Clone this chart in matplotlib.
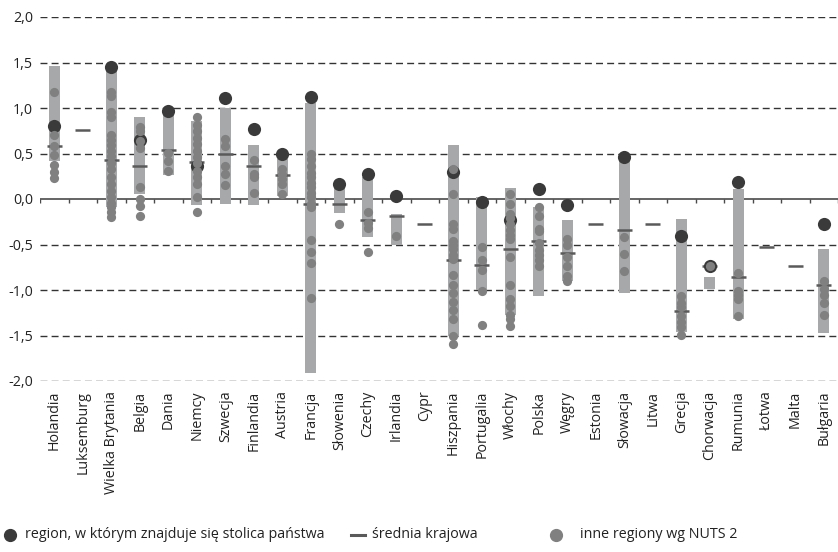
import numpy as np
import matplotlib.pyplot as plt
from matplotlib.lines import Line2D

plt.rcParams['font.family'] = ['Open Sans', 'DejaVu Sans']

# Dane
kraje = ['Holandia', 'Luksemburg', 'Wielka Brytania', 'Belgia', 'Dania', 'Niemcy',
         'Szwecja', 'Finlandia', 'Austria', 'Francja', 'Słowenia', 'Czechy', 'Irlandia',
         'Cypr', 'Hiszpania', 'Portugalia', 'Włochy', 'Polska', 'Węgry', 'Estonia',
         'Słowacja', 'Litwa', 'Grecja', 'Chorwacja', 'Rumunia', 'Łotwa', 'Malta', 'Bułgaria']

nan = np.nan
slupek_dol = [0.42, nan, -0.09, 0.05, 0.26, -0.07, -0.05, -0.07, 0.03, -1.91, -0.15, -0.42,
              -0.50, nan, -1.51, -1.00, -1.28, -1.07, -0.90, nan, -1.03, nan, -1.46, -0.99,
              -1.32, nan, nan, -1.47]
slupek_gora = [1.46, nan, 1.46, 0.90, 0.97, 0.86, 1.00, 0.59, 0.44, 1.06, 0.13, 0.24,
               -0.17, nan, 0.59, 0.02, 0.12, -0.09, -0.23, nan, 0.46, nan, -0.22, -0.86,
               0.11, nan, nan, -0.55]
stolica = [0.80, nan, 1.45, 0.65, 0.97, 0.36, 1.11, 0.77, 0.50, 1.12, 0.16, 0.28, 0.03,
           nan, 0.30, -0.03, -0.23, 0.11, -0.07, nan, 0.46, nan, -0.41, -0.74, 0.19, nan,
           nan, -0.28]
srednia = [0.58, 0.76, 0.43, 0.36, 0.54, 0.41, 0.50, 0.36, 0.26, -0.05, -0.05, -0.23,
           -0.19, -0.27, -0.67, -0.73, -0.55, -0.46, -0.59, -0.27, -0.34, -0.27, -1.23,
           -0.74, -0.86, -0.53, -0.74, -0.94]
inne = [
    [1.18, 0.70, 0.58, 0.48, 0.37, 0.30, 0.23],
    [],
    [1.18, 1.13, 0.96, 0.90, 0.70, 0.65, 0.59, 0.53, 0.47, 0.40, 0.33, 0.24, 0.16, 0.09,
     0.02, -0.04, -0.09, -0.14, -0.20],
    [0.79, 0.75, 0.64, 0.56, 0.13, 0.00, -0.08, -0.19],
    [0.51, 0.42, 0.31],
    [0.90, 0.81, 0.75, 0.67, 0.60, 0.53, 0.46, 0.40, 0.31, 0.24, 0.16, 0.02, -0.14],
    [0.66, 0.58, 0.36, 0.28, 0.15],
    [0.43, 0.27, 0.24, 0.07],
    [0.33, 0.27, 0.22, 0.16, 0.06],
    [0.49, 0.44, 0.36, 0.29, 0.24, 0.18, 0.13, 0.07, 0.02, -0.05, -0.09, -0.45, -0.58,
     -0.70, -1.09],
    [-0.27],
    [-0.14, -0.26, -0.32, -0.58],
    [-0.41],
    [],
    [0.33, 0.05, -0.28, -0.33, -0.46, -0.51, -0.55, -0.61, -0.66, -0.84, -0.95, -1.03,
     -1.13, -1.22, -1.32, -1.50, -1.59],
    [-0.53, -0.67, -0.78, -1.01, -1.38],
    [0.05, -0.06, -0.16, -0.21, -0.27, -0.34, -0.40, -0.44, -0.64, -0.95, -1.10, -1.18,
     -1.28, -1.32, -1.40],
    [-0.09, -0.19, -0.33, -0.35, -0.48, -0.56, -0.62, -0.67, -0.74],
    [-0.44, -0.51, -0.64, -0.74, -0.85, -0.90],
    [],
    [-0.42, -0.60, -0.79],
    [],
    [-1.07, -1.14, -1.19, -1.29, -1.35, -1.41, -1.49],
    [-0.74],
    [-0.81, -1.01, -1.06, -1.10, -1.29],
    [],
    [],
    [-0.90, -0.99, -1.06, -1.14, -1.28],
]
y_ticks = [-2.0, -1.5, -1.0, -0.5, 0.0, 0.5, 1.0, 1.5, 2.0]

x = np.arange(len(kraje))
fs = 10.3

fig = plt.figure(figsize=(8.38, 5.52), dpi=100)
ax = fig.add_axes([40 / 838, 1 - 381 / 552, 798 / 838, 364 / 552])

# Slupki (zakres)
dol = np.array(slupek_dol)
gora = np.array(slupek_gora)
ax.bar(x, gora - dol, bottom=dol, width=0.39, color='#a7a8aa', zorder=2)

# Srednie krajowe
ax.hlines(srednia, x - 0.27, x + 0.27, color='#5a5a5a', lw=1.8, zorder=3)

# Stolice
ax.scatter(x, stolica, s=90, color='#3a3a3a', zorder=4, linewidths=0)

# Inne regiony
for i, vals in enumerate(inne):
    ax.scatter([x[i]] * len(vals), vals, s=44, color='#808080', zorder=5, linewidths=0)

# Siatka
for v in y_ticks:
    if v == 0:
        continue
    ax.axhline(v, color='#333333', lw=1.0, ls=(0, (5, 3)), zorder=1)
ax.axhline(0, color='#4a4a4a', lw=1.2, zorder=1)
ax.vlines(np.arange(len(kraje) + 1) - 0.5, -0.045, 0, color='#4a4a4a', lw=1.0, zorder=1)

ax.set_xlim(-0.5, len(kraje) - 0.5)
ax.set_ylim(-2.0, 2.0)
ax.set_yticks(y_ticks)
ax.set_yticklabels([f'{v:.1f}'.replace('.', ',') for v in y_ticks], fontsize=fs,
                   color='#222222')
ax.set_xticks(x)
ax.set_xticklabels(kraje, rotation=90, fontsize=fs, color='#222222', va='top')
ax.tick_params(axis='both', length=0)
ax.tick_params(axis='x', pad=7)
ax.tick_params(axis='y', pad=5)
for s in ax.spines.values():
    s.set_visible(False)

# Legenda
ly = 1 - 535 / 552
fig.add_artist(Line2D([10 / 838], [ly], marker='o', ms=8.5, color='#3a3a3a', lw=0,
                      transform=fig.transFigure))
fig.text(25 / 838, ly, 'region, w którym znajduje się stolica państwa', fontsize=fs,
         va='center', color='#222222')
fig.add_artist(Line2D([351 / 838, 365 / 838], [ly, ly], color='#5a5a5a', lw=2.2,
                      transform=fig.transFigure))
fig.text(372 / 838, ly, 'średnia krajowa', fontsize=fs, va='center', color='#222222')
fig.add_artist(Line2D([556 / 838], [ly], marker='o', ms=8.5, color='#808080', lw=0,
                      transform=fig.transFigure))
fig.text(580 / 838, ly, 'inne regiony wg NUTS 2', fontsize=fs, va='center',
         color='#222222')

fig.savefig('out.png', dpi=100)
